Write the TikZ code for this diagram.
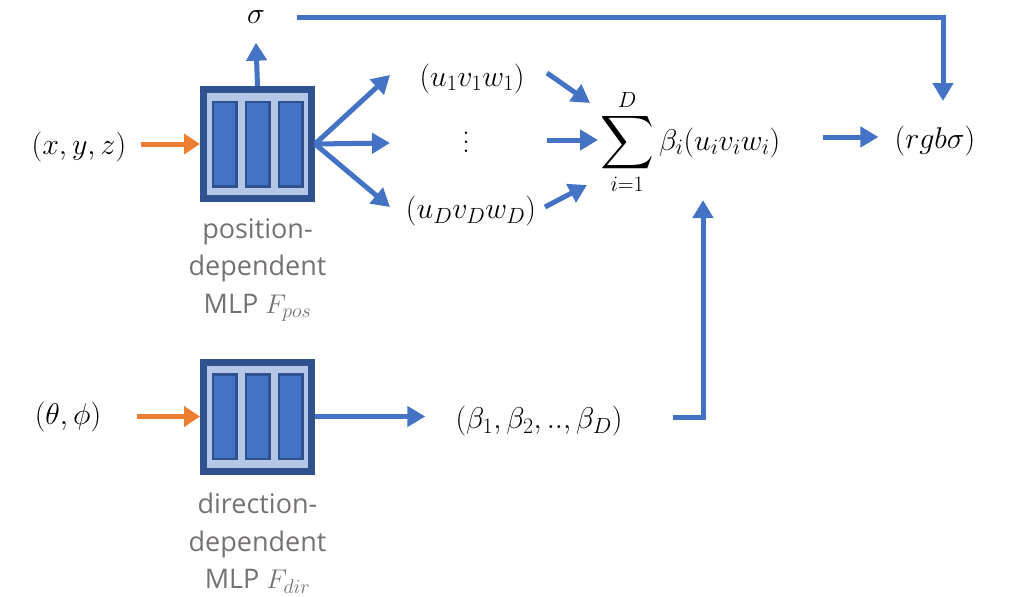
\RequirePackage{fix-cm}
\documentclass[tikz,border=0pt]{standalone}
\usepackage{exscale}
\usepackage{fontspec}
\usepackage{graphicx}
\newfontfamily\labelfont{Open Sans}
\usetikzlibrary{arrows.meta}
\definecolor{mlpdark}{HTML}{2F528F}
\definecolor{mlplight}{HTML}{B4C7E7}
\definecolor{mlpblue}{HTML}{4472C4}
\definecolor{inorange}{HTML}{ED7D31}
\definecolor{labelgray}{HTML}{767171}
\DeclareMathSizes{30}{30}{22}{16}
\DeclareMathSizes{27}{27}{20}{15}
\newcommand{\bigsum}{\mathop{\vcenter{\hbox{\scalebox{1.5}{$\displaystyle\sum$}}}}\limits}
\newcommand{\colvdots}{\vbox{\baselineskip=9pt\lineskiplimit=0pt\hbox{.}\hbox{.}\hbox{.}}}
\begin{document}
\begin{tikzpicture}[x=1pt,y=-1pt,
  mlpbox/.style={draw=mlpdark, fill=mlplight, line width=7pt,
    minimum width=108pt, minimum height=109pt, inner sep=0pt},
  mlpbar/.style={draw=mlpdark, fill=mlpblue, line width=2.5pt},
  flow/.style={draw=mlpblue, line width=5pt,
    -{Triangle[length=18pt,width=20pt]}},
  inflow/.style={draw=inorange, line width=5pt,
    -{Triangle[length=16pt,width=20pt]}},
  mathtext/.style={font=\fontsize{30}{36}\selectfont, inner sep=3pt},
  mlplabel/.style={font=\labelfont\fontsize{27}{37.5}\selectfont,
    text=labelgray, align=center, inner sep=0pt, anchor=north}]
\useasboundingbox (0,0) rectangle (1013,597);

% the two MLP blocks with their three layers
\node[mlpbox] (pos) at (257.5,144) {};
\node[mlpbox] (dir) at (257.5,416.5) {};
\foreach \blk in {pos,dir}{
  \foreach \dx in {-33,0,33}{
    \fill[mlpbar] ([shift={(\dx-11.75,-42.25)}]\blk.center)
      rectangle ([shift={(\dx+11.75,42.25)}]\blk.center);
  }
}

% captions
\node[mlplabel] (poslabel) at (257.5,218) {position-\\dependent\\MLP $F_{pos}$};
\node[mlplabel] (dirlabel) at (257.5,493) {direction-\\dependent\\MLP $F_{dir}$};

% inputs and intermediate quantities
\node[mathtext] (xyz) at (79,147) {$(x,y,z)$};
\node[mathtext] (theta) at (68,417) {$(\theta,\phi)$};
\node[mathtext] (sigma) at (256,17) {$\sigma$};
\node[mathtext] (u1) at (472,79) {$(u_1v_1w_1)$};
\node[mathtext] (dots) at (466,142) {\colvdots};
\node[mathtext] (uD) at (471,211) {$(u_Dv_Dw_D)$};
\node[mathtext, anchor=west] (sum) at (597,142)
  {$\bigsum_{i=1}^{D}\beta_i(u_iv_iw_i)$};
\node[mathtext] (rgb) at (935,141) {$(rgb\sigma)$};
\node[mathtext] (beta) at (539,421) {$(\beta_1,\beta_2,..,\beta_D)$};

% free ends of the fan-out and fan-in arrows
\coordinate (fan1) at (390,75);
\coordinate (fan2) at (390,143);
\coordinate (fan3) at (390,207);
\coordinate (in1s) at (547,73);
\coordinate (in1e) at (590,103);
\coordinate (in2s) at (547,140);
\coordinate (in2e) at (598,140);
\coordinate (in3s) at (545,207);
\coordinate (in3e) at (587,185);
\coordinate (rgbin) at (943,101);
\coordinate (sumin) at (703,200);

% orange inputs
\draw[inflow] ([xshift=11pt]xyz.east |- pos.west) -- (pos.west);
\draw[inflow] ([xshift=33pt]theta.east |- dir.west) -- (dir.west);

% density output and its route to the colour
\draw[flow] (pos.north) -- ([yshift=-16pt]sigma.south);
\draw[flow] ([xshift=29pt]sigma.east) -| (rgbin);

% position MLP fan-out
\draw[flow] (pos.east) -- (fan1);
\draw[flow] (pos.east) -- (fan2);
\draw[flow] (pos.east) -- (fan3);

% fan-in to the weighted sum
\draw[flow] (in1s) -- (in1e);
\draw[flow] (in2s) -- (in2e);
\draw[flow] (in3s) -- (in3e);

% direction branch
\draw[flow] (dir.east) -- ([xshift=-27pt]dir.east -| beta.west);
\draw[flow] ([xshift=47pt,yshift=4pt]beta.east) -| (sumin);

% result
\draw[flow] ([xshift=40pt,yshift=4pt]sum.east |- rgb.west) -- ([xshift=-13pt,yshift=4pt]rgb.west);
\end{tikzpicture}
\end{document}
